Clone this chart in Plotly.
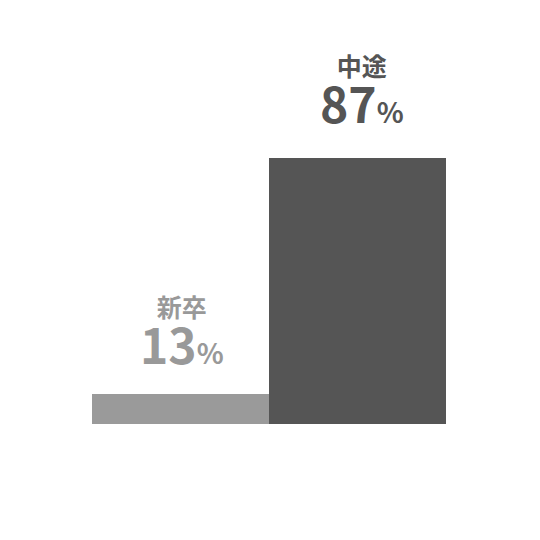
import plotly.graph_objects as go

categories = ["新卒", "中途"]
values = [13, 87]
bar_colors = ["#9a9a9a", "#555555"]
text_colors = ["#999999", "#555555"]
text_shift = [14, 19]
text_xshift = [1, 4]

FONT = "Noto Sans CJK JP"

fig = go.Figure()
fig.add_trace(go.Bar(
    x=categories, y=values,
    marker=dict(color=bar_colors, line=dict(width=0)),
    hoverinfo="skip",
))

annotations = []
for i, (c, v) in enumerate(zip(categories, values)):
    annotations.append(dict(
        x=c, y=v, xref="x", yref="y",
        text=(f"<span style='font-size:25px'><b>{c}</b></span><br>"
              f"<span style='font-size:48px'><b>{v}</b></span>"
              f"<span style='font-size:28px'><b>%</b></span>"),
        showarrow=False, yanchor="bottom", xanchor="center", align="center",
        yshift=text_shift[i], xshift=text_xshift[i],
        font=dict(family=FONT, size=36, color=text_colors[i]),
    ))

fig.update_layout(
    width=540, height=540,
    margin=dict(l=84, r=102, t=32, b=124, pad=0),
    paper_bgcolor="white", plot_bgcolor="white",
    bargap=0, showlegend=False,
    xaxis=dict(visible=False, range=[-0.5, 1.5]),
    yaxis=dict(visible=False, range=[3.59, 124.0]),
    annotations=annotations,
    font=dict(family=FONT),
)

fig.write_html("out.html")
